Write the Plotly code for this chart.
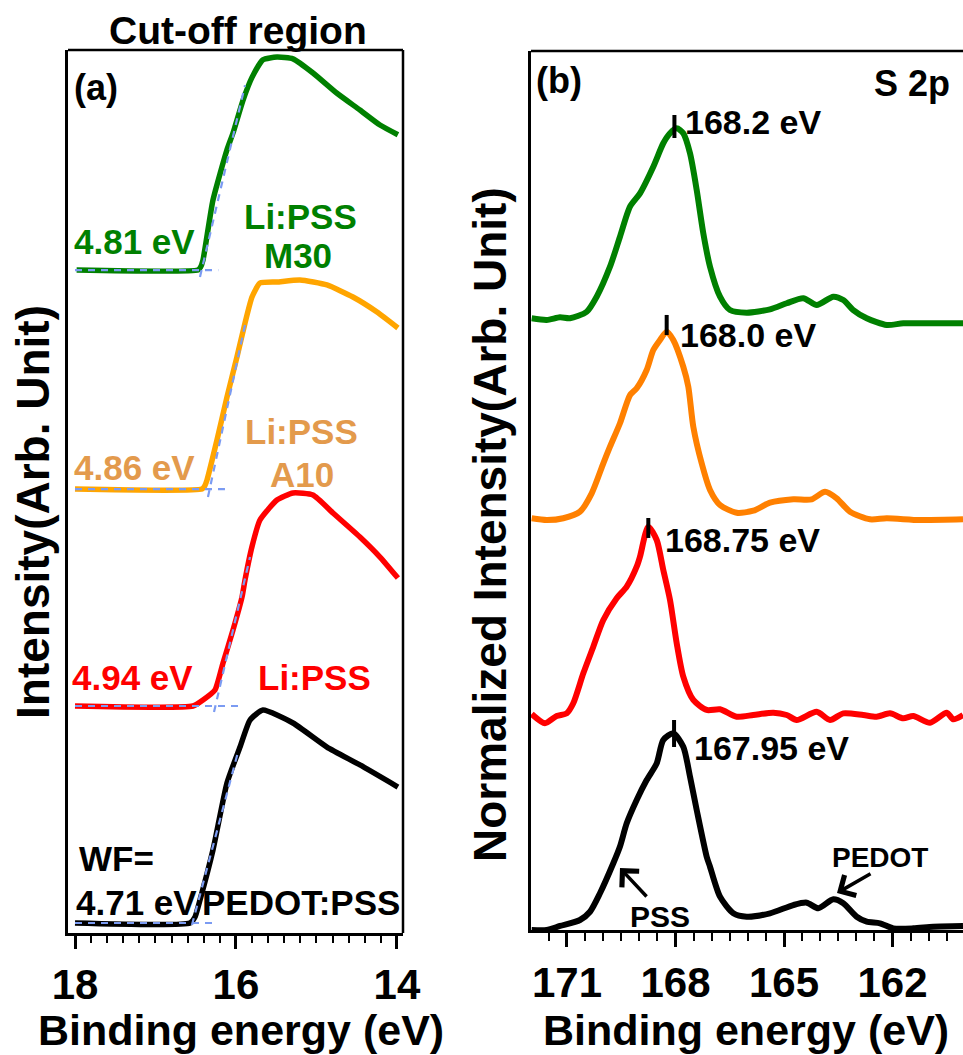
import plotly.graph_objects as go

# ---------------- Panel (a): secondary-electron cut-off ----------------
a_green_E = [17.98, 16.472, 16.44, 16.41, 16.286, 16.112, 16.037, 15.913, 15.801, 15.665, 15.491, 15.292, 15.043, 14.745, 14.46, 14.211, 13.988]
a_green_I = [75.08, 75.08, 75.4, 76.2, 83.0, 88.7, 90.6, 94.3, 96.9, 98.9, 99.2, 99.0, 97.4, 95.1, 93.2, 91.5, 90.4]

a_orange_E = [18.0, 16.422, 16.39, 16.36, 16.236, 16.112, 15.988, 15.888, 15.801, 15.702, 15.491, 15.205, 14.87, 14.547, 14.248, 13.988]
a_orange_I = [50.28, 50.28, 50.6, 51.3, 55.83, 60.70, 65.23, 69.08, 72.03, 73.61, 73.73, 73.95, 73.39, 72.03, 70.33, 68.52]

a_red_E = [18.0, 16.534, 16.41, 16.261, 16.161, 16.037, 15.925, 15.888, 15.80, 15.702, 15.491, 15.292, 15.043, 14.795, 14.46, 14.211, 13.988]
a_red_I = [25.71, 25.71, 26.39, 27.52, 30.58, 34.31, 38.05, 39.98, 43.8, 46.77, 49.04, 49.83, 49.60, 47.57, 44.85, 42.58, 40.20]

a_black_E = [18.0, 16.571, 16.509, 16.447, 16.286, 16.112, 15.95, 15.826, 15.665, 15.292, 14.87, 14.46, 13.988]
a_black_I = [1.13, 1.13, 1.81, 3.74, 9.40, 16.99, 21.06, 24.12, 25.25, 23.78, 21.06, 19.03, 16.53]

# linear fits (baseline + leading edge) of the cut-off
fit_base_E = [[18.0, 16.22], [18.0, 16.137], [18.0, 15.975], [18.0, 16.224]]
fit_base_I = [75.08, 50.28, 25.71, 1.13]
fit_edge_E = [[16.447, 15.888], [16.348, 15.888], [16.273, 15.826], [16.547, 15.975]]
fit_edge_I = [[74.3, 96.0], [49.38, 68.86], [25.03, 42.58], [0.9, 20.5]]

# ---------------- Panel (b): S 2p ----------------
b_green_E = [171.976, 171.561, 171.194, 170.917, 170.455, 170.179, 169.811, 169.535, 169.258, 168.982, 168.614, 168.338, 168.152, 167.967, 167.785, 167.599, 167.414, 167.232, 167.046, 166.770, 166.494, 166.032, 165.388, 164.926, 164.467, 164.097, 163.638, 163.361, 163.085, 162.714, 162.161, 161.702, 160.779, 160.052]
b_green_I = [69.59, 69.40, 69.70, 69.59, 70.34, 72.05, 75.46, 78.87, 82.29, 83.81, 86.84, 89.50, 90.64, 91.20, 90.64, 88.36, 84.19, 79.26, 75.46, 72.05, 70.53, 70.23, 70.61, 71.30, 71.87, 71.10, 72.05, 71.67, 70.53, 69.59, 68.83, 69.02, 69.02, 69.02]

b_orange_E = [171.976, 171.561, 171.102, 170.641, 170.317, 169.996, 169.811, 169.535, 169.258, 169.073, 168.797, 168.614, 168.429, 168.244, 168.061, 167.785, 167.646, 167.508, 167.276, 167.046, 166.770, 166.308, 165.849, 165.388, 164.743, 164.235, 163.867, 163.544, 163.176, 162.623, 162.161, 161.241, 160.052]
b_orange_I = [46.84, 46.64, 46.84, 47.59, 49.68, 53.09, 54.98, 57.65, 60.86, 61.63, 63.71, 65.98, 67.12, 68.07, 67.12, 64.08, 61.81, 57.26, 53.09, 50.06, 48.35, 47.47, 47.70, 48.61, 49.00, 49.00, 49.86, 49.11, 47.59, 46.72, 46.84, 46.64, 46.72]

b_red_E = [171.976, 171.608, 171.285, 171.008, 170.826, 170.549, 170.273, 169.996, 169.626, 169.349, 169.073, 168.982, 168.752, 168.520, 168.338, 168.152, 167.967, 167.785, 167.508, 167.138, 166.770, 166.308, 165.849, 165.296, 164.926, 164.650, 164.097, 163.729, 163.361, 162.808, 162.438, 162.070, 161.702, 161.426, 160.964, 160.502, 160.320, 160.052]
b_red_I = [24.57, 23.52, 24.35, 24.65, 25.79, 29.20, 32.23, 35.27, 37.74, 39.06, 41.33, 42.47, 45.88, 44.37, 40.96, 37.54, 32.62, 28.82, 26.17, 25.03, 25.11, 24.27, 24.46, 24.72, 24.46, 23.89, 24.83, 23.89, 24.65, 24.46, 24.27, 24.65, 24.08, 24.35, 23.58, 24.72, 23.97, 24.46]

b_black_E = [171.976, 171.561, 171.194, 170.641, 170.364, 170.088, 169.720, 169.535, 169.349, 169.073, 168.797, 168.520, 168.338, 168.061, 167.785, 167.599, 167.414, 167.138, 167.046, 166.770, 166.402, 166.032, 165.388, 164.743, 164.373, 164.052, 163.638, 163.361, 162.991, 162.714, 162.347, 161.979, 161.426, 160.873, 160.052]
b_black_I = [0.0, 0.0, 0.46, 1.14, 2.08, 4.18, 7.59, 9.5, 12.14, 14.79, 17.06, 18.96, 21.62, 22.38, 20.85, 17.44, 13.65, 8.34, 7.20, 3.79, 1.90, 1.51, 1.90, 2.84, 3.11, 2.47, 3.49, 3.04, 1.51, 0.94, 0.76, 0.19, 0.19, 0.38, 0.46]

# peak markers and labels
peak_E = [168.03, 168.244, 168.752, 168.04]
peak_lo = [90.10, 67.69, 44.60, 20.82]
peak_hi = [92.72, 69.97, 46.87, 23.89]
peak_labels = ["168.2 eV", "168.0 eV", "168.75 eV", "167.95 eV"]
peak_label_E = [167.793, 167.93, 168.346, 167.544]
peak_label_I = [91.92, 67.69, 44.37, 20.71]

FONT = "Liberation Sans, Arial, sans-serif"
GREEN = "#008000"
ORANGE_A = "#FFA500"
ORANGE_A_TXT = "#E39A4C"
ORANGE_B = "#FF8000"
RED = "#FF0000"
BLACK = "#000000"
DASH = "#7B9BF2"

fig = go.Figure()

for E, I, c in [(a_green_E, a_green_I, GREEN), (a_orange_E, a_orange_I, ORANGE_A),
                (a_red_E, a_red_I, RED), (a_black_E, a_black_I, BLACK)]:
    fig.add_trace(go.Scatter(x=E, y=I, mode="lines", xaxis="x", yaxis="y",
                             line=dict(color=c, width=5.5, shape="spline", smoothing=0.5),
                             showlegend=False, hoverinfo="skip"))

for bE, bI, eE, eI in zip(fit_base_E, fit_base_I, fit_edge_E, fit_edge_I):
    fig.add_trace(go.Scatter(x=bE, y=[bI, bI], mode="lines", xaxis="x", yaxis="y",
                             line=dict(color=DASH, width=2.2, dash="7px,6px"),
                             showlegend=False, hoverinfo="skip"))
    fig.add_trace(go.Scatter(x=eE, y=eI, mode="lines", xaxis="x", yaxis="y",
                             line=dict(color=DASH, width=2.2, dash="7px,6px"),
                             showlegend=False, hoverinfo="skip"))

for E, I, c in [(b_green_E, b_green_I, GREEN), (b_orange_E, b_orange_I, ORANGE_B),
                (b_red_E, b_red_I, RED), (b_black_E, b_black_I, BLACK)]:
    fig.add_trace(go.Scatter(x=E, y=I, mode="lines", xaxis="x2", yaxis="y2",
                             line=dict(color=c, width=6, shape="spline", smoothing=0.7),
                             showlegend=False, hoverinfo="skip"))

for pe, lo, hi in zip(peak_E, peak_lo, peak_hi):
    fig.add_trace(go.Scatter(x=[pe, pe], y=[lo, hi], mode="lines", xaxis="x2", yaxis="y2",
                             line=dict(color=BLACK, width=4),
                             showlegend=False, hoverinfo="skip"))

W, H = 963, 1055
def px(v):
    return v / W
def py(v):
    return 1 - v / H

tickfont = dict(family=FONT, size=42, color="black", weight="bold")
axis_common = dict(showgrid=False, zeroline=False, showline=True, linecolor="black",
                   linewidth=2.5, ticks="outside", tickwidth=2.5, tickcolor="black",
                   tickfont=tickfont, automargin=False, mirror=False)

fig.update_layout(
    width=W, height=H,
    margin=dict(l=0, r=0, t=0, b=0),
    paper_bgcolor="white", plot_bgcolor="white",
    xaxis=dict(domain=[px(68), px(403)], range=[18.087, 13.925], anchor="y",
               tickmode="linear", tick0=14, dtick=2, ticklen=13,
               minor=dict(tickmode="linear", tick0=14, dtick=0.2, ticklen=7,
                          tickwidth=2, tickcolor="black", ticks="outside"),
               **axis_common),
    yaxis=dict(domain=[py(933), py(50)], range=[0, 100], anchor="x",
               showgrid=False, zeroline=False, showline=True, linecolor="black",
               linewidth=2.5, showticklabels=False, ticks=""),
    xaxis2=dict(domain=[px(531), 1.0], range=[171.995, 160.052], anchor="y2",
                tickmode="linear", tick0=162, dtick=3, ticklen=14,
                minor=dict(tickmode="linear", tick0=162, dtick=0.5, ticklen=8,
                           tickwidth=2, tickcolor="black", ticks="outside"),
                **axis_common),
    yaxis2=dict(domain=[py(930), py(51)], range=[0, 100], anchor="x2",
                showgrid=False, zeroline=False, showline=True, linecolor="black",
                linewidth=2.5, showticklabels=False, ticks=""),
)

# frame: top + right of panel (a), top of panel (b)
frame = dict(color="black", width=2.5)
fig.add_shape(type="line", xref="x domain", yref="y domain", x0=0, x1=1, y0=1, y1=1, line=frame)
fig.add_shape(type="line", xref="x domain", yref="y domain", x0=1, x1=1, y0=0, y1=1, line=frame)
fig.add_shape(type="line", xref="x2 domain", yref="y2 domain", x0=0, x1=1, y0=1, y1=1, line=frame)

ann = []
def txt(text, x, y, size, color="black", xref="x", yref="y", xanchor="center", textangle=0):
    ann.append(dict(text=text, x=x, y=y, xref=xref, yref=yref, showarrow=False,
                    xanchor=xanchor, yanchor="middle", textangle=textangle,
                    font=dict(family=FONT, size=size, color=color, weight="bold")))

# panel (a) texts
txt("Cut-off region", px(238), py(31), 39, xref="paper", yref="paper")
txt("(a)", 17.74, 95.7, 36)
txt("4.81 eV", 17.255, 78.26, 35, GREEN)
txt("Li:PSS", 15.193, 81.09, 35, GREEN)
txt("M30", 15.23, 76.78, 35, GREEN)
txt("4.86 eV", 17.255, 52.77, 35, ORANGE_A_TXT)
txt("Li:PSS", 15.18, 56.74, 35, ORANGE_A_TXT)
txt("A10", 15.18, 51.87, 35, ORANGE_A_TXT)
txt("4.94 eV", 17.28, 28.99, 35, RED)
txt("Li:PSS", 15.02, 28.99, 35, RED)
txt("WF=", 17.975, 8.49, 35, xanchor="left")
txt("4.71 eV", 17.24, 3.51, 35)
txt("PEDOT:PSS", 15.19, 3.51, 35)

# panel (b) texts
txt("(b)", 171.22, 96.59, 36, xref="x2", yref="y2")
txt("S 2p", 161.46, 96.25, 36, xref="x2", yref="y2")
for lab, le, li in zip(peak_labels, peak_label_E, peak_label_I):
    txt(lab, le, li, 34, xref="x2", yref="y2", xanchor="left")
txt("PSS", 168.43, 1.59, 30, xref="x2", yref="y2")
txt("PEDOT", 162.347, 8.30, 28, xref="x2", yref="y2")

# axis titles
txt("Binding energy (eV)", px(241), py(1030), 43, xref="paper", yref="paper")
txt("Binding energy (eV)", px(746), py(1030), 43, xref="paper", yref="paper")
txt("Intensity(Arb. Unit)", px(33), py(512), 46, xref="paper", yref="paper", textangle=-90)
txt("Normalized Intensity(Arb. Unit)", px(490), py(525), 46, xref="paper", yref="paper", textangle=-90)

# arrows
for tipE, tipI, ax, ay in [(169.535, 7.05, 28, 30), (163.535, 4.21, 35, -20)]:
    ann.append(dict(text="", x=tipE, y=tipI, xref="x2", yref="y2", showarrow=True,
                    ax=ax, ay=ay, arrowhead=4, arrowwidth=3.5, arrowsize=1.3, arrowcolor="black"))

fig.update_layout(annotations=ann)
fig.write_html("out.html")
